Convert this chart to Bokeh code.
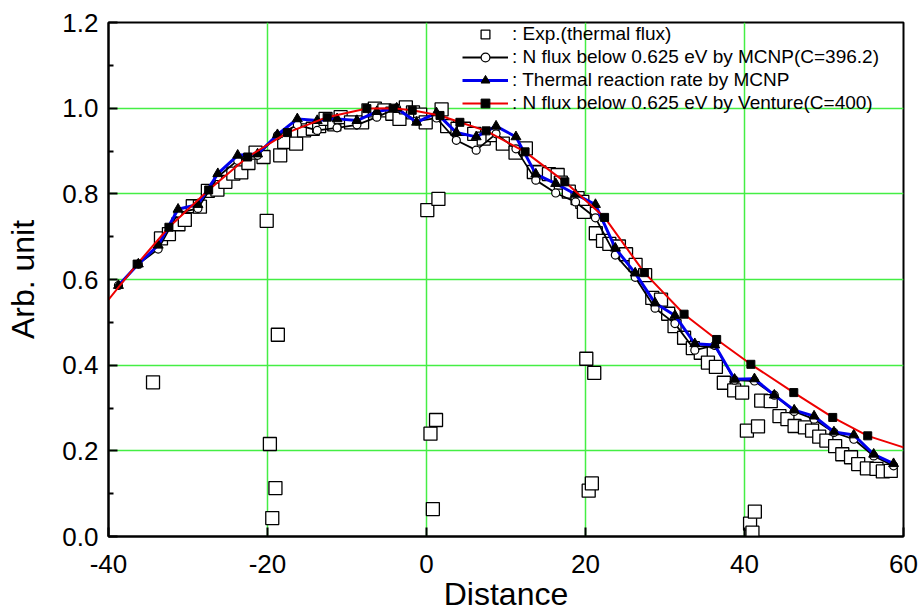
from bokeh.plotting import figure
from bokeh.models import Range1d, FixedTicker, PrintfTickFormatter, Legend, LegendItem
from bokeh.embed import file_html
from bokeh.resources import INLINE

# ---------------- data ----------------
exp_x = [-34.4, -33.4, -32.4, -31.2, -30.4, -29.4, -28.5, -27.5, -26.3, -25.3, -24.3, -23.3, -22.4,
         -21.5, -20.5, -20.1, -19.7, -19.4, -19.0, -18.7, -18.4, -17.9, -16.4, -15.4, -14.3,
         -13.5, -12.7, -11.6, -10.8, -9.5, -8.1, -7.3, -6.5, -5.3, -4.3, -3.4, -2.6, -1.7,
         -0.8, -0.1, 0.1, 0.5, 0.8, 1.2, 1.5, 1.9, 2.6, 3.9, 4.7, 6.0, 7.2, 8.3, 9.6, 11.2,
         12.5, 13.5, 14.2, 15.4, 16.5, 16.9, 17.9, 19.0, 19.6, 19.8, 20.1, 20.4, 20.8, 21.1,
         21.3, 22.2, 23.0, 24.2, 25.1, 26.3, 27.5, 28.4, 29.5, 30.4, 31.2, 32.4, 33.5, 34.5,
         35.4, 36.4, 37.4, 38.7, 39.7, 40.3, 40.7, 41.0, 41.3, 41.7, 42.1, 43.3, 44.4, 45.4,
         46.3, 47.6, 48.5, 49.4, 50.3, 51.4, 52.3, 53.4, 54.3, 55.4, 56.6, 57.4, 58.4]
exp_y = [0.360, 0.696, 0.706, 0.729, 0.739, 0.771, 0.770, 0.807, 0.810, 0.828, 0.847, 0.850, 0.872,
         0.896, 0.886, 0.737, 0.216, 0.043, 0.113, 0.471, 0.890, 0.921, 0.917, 0.948, 0.952,
         0.958, 0.975, 0.962, 0.979, 0.967, 0.967, 0.995, 0.999, 0.995, 0.987, 0.975, 1.002, 0.990,
         0.985, 0.967, 0.762, 0.240, 0.064, 0.272, 0.788, 0.997, 0.958, 0.952, 0.952, 0.940, 0.929, 0.937, 0.917, 0.896,
         0.906, 0.851, 0.850, 0.846, 0.844, 0.826, 0.805, 0.790, 0.781, 0.758, 0.415, 0.107, 0.124, 0.382,
         0.708, 0.690, 0.683, 0.677, 0.659, 0.634, 0.610, 0.557, 0.553, 0.520, 0.491, 0.464, 0.440, 0.429,
         0.406, 0.396, 0.359, 0.341, 0.336, 0.247, 0.030, 0.009, 0.058, 0.257, 0.317, 0.316, 0.281, 0.274,
         0.258, 0.255, 0.247, 0.233, 0.224, 0.211, 0.192, 0.185, 0.169, 0.159, 0.158, 0.152, 0.153]

mcnp_x = [-38.75, -36.25, -33.75, -31.25, -28.75, -26.25, -23.75, -21.25, -18.75, -16.25,
          -13.75, -11.25, -8.75, -6.25, -3.75, -1.25, 1.25, 3.75, 6.25, 8.75,
          11.25, 13.75, 16.25, 18.75, 21.25, 23.75, 26.25, 28.75, 31.25, 33.75,
          36.25, 38.75, 41.25, 43.75, 46.25, 48.75, 51.25, 53.75, 56.25, 58.75]
flux_mcnp = [0.586, 0.636, 0.671, 0.755, 0.766, 0.840, 0.878, 0.890, 0.936, 0.961,
             0.948, 0.954, 0.961, 0.979, 1.000, 0.970, 0.977, 0.925, 0.902, 0.940,
             0.905, 0.832, 0.802, 0.781, 0.744, 0.657, 0.605, 0.533, 0.497, 0.435,
             0.446, 0.365, 0.363, 0.330, 0.292, 0.274, 0.243, 0.227, 0.188, 0.165]
rate_mcnp = [0.586, 0.636, 0.680, 0.764, 0.775, 0.847, 0.890, 0.893, 0.938, 0.975,
             0.971, 0.975, 0.971, 0.992, 1.000, 0.967, 0.989, 0.943, 0.933, 0.958,
             0.933, 0.846, 0.824, 0.799, 0.775, 0.673, 0.615, 0.545, 0.516, 0.450,
             0.447, 0.367, 0.368, 0.330, 0.295, 0.281, 0.244, 0.237, 0.192, 0.170]

venture_x = [-36.4, -32.4, -27.4, -22.5, -17.5, -12.5, -7.5, -4.2, -1.8, 1.7, 4.2,
             7.5, 12.4, 17.4, 22.4, 27.4, 32.4, 36.5, 40.8, 46.2, 51.1, 55.5]
venture_y = [0.636, 0.722, 0.809, 0.886, 0.943, 0.979, 0.999, 1.000, 0.995, 0.983, 0.967,
             0.947, 0.898, 0.828, 0.745, 0.616, 0.519, 0.460, 0.402, 0.336, 0.278, 0.235]
# curve continues past the plotted range at both ends
venture_line_x = [-40.0] + venture_x + [60.0]
venture_line_y = [0.553] + venture_y + [0.208]

x_ticks = [-40, -20, 0, 20, 40, 60]
y_ticks = [0.0, 0.2, 0.4, 0.6, 0.8, 1.0, 1.2]
y_minor = [0.1, 0.3, 0.5, 0.7, 0.9, 1.1]

labels = [": Exp.(thermal flux)",
          ": N flux below 0.625 eV by MCNP(C=396.2)",
          ": Thermal reaction rate by MCNP",
          ": N flux below 0.625 eV by Venture(C=400)"]

FONT = "Liberation Sans"

# ---------------- figure ----------------
p = figure(width=921, height=614, x_range=Range1d(-40, 60), y_range=Range1d(0, 1.2),
           output_backend="svg", toolbar_location=None,
           min_border_left=108, min_border_right=18, min_border_top=22, min_border_bottom=76)
p.outline_line_color = "black"
p.outline_line_width = 2
p.background_fill_color = "white"

# grid
p.xgrid.ticker = FixedTicker(ticks=x_ticks)
p.ygrid.ticker = FixedTicker(ticks=y_ticks)
for g in (p.xgrid, p.ygrid):
    g.grid_line_color = "#44ee44"
    g.grid_line_width = 1.5

# axes
p.xaxis.ticker = FixedTicker(ticks=x_ticks, minor_ticks=[])
p.yaxis.ticker = FixedTicker(ticks=y_ticks, minor_ticks=y_minor)
p.xaxis.formatter = PrintfTickFormatter(format="%d")
p.yaxis.formatter = PrintfTickFormatter(format="%.1f")
p.xaxis.axis_label = "Distance"
p.yaxis.axis_label = "Arb. unit"
for ax in (p.xaxis, p.yaxis):
    ax.axis_line_width = 2
    ax.axis_line_color = "black"
    ax.major_tick_in = 9
    ax.major_tick_out = 0
    ax.minor_tick_in = 5
    ax.minor_tick_out = 0
    ax.major_tick_line_width = 2
    ax.minor_tick_line_width = 2
    ax.major_label_text_font = FONT
    ax.major_label_text_font_size = "26px"
    ax.major_label_text_color = "black"
    ax.axis_label_text_font = FONT
    ax.axis_label_text_font_size = "32px"
    ax.axis_label_text_font_style = "normal"
    ax.axis_label_text_color = "black"
p.xaxis.major_label_standoff = 18
p.xaxis.axis_label_standoff = 0
p.yaxis.major_label_standoff = 10
p.yaxis.axis_label_standoff = 18

# experimental points (white filled open squares, drawn first)
r_exp = p.scatter(exp_x, exp_y, marker="square", size=13, fill_color="white",
                  line_color="black", line_width=1.3)

# MCNP flux: black line with open circles
r_fl = p.line(mcnp_x, flux_mcnp, line_color="black", line_width=1.8)
r_fm = p.scatter(mcnp_x, flux_mcnp, marker="circle", size=8, fill_color="white",
                 line_color="black", line_width=1.2)

# MCNP reaction rate: blue line with filled triangles
r_rl = p.line(mcnp_x, rate_mcnp, line_color="#0000ee", line_width=3)
r_rm = p.scatter(mcnp_x, rate_mcnp, marker="triangle", size=10, fill_color="black",
                 line_color="black")

# Venture: red line with filled squares
r_vl = p.line(venture_line_x, venture_line_y, line_color="#ee0000", line_width=2)
r_vm = p.scatter(venture_x, venture_y, marker="square", size=8, fill_color="black",
                 line_color="black")

legend = Legend(items=[
    LegendItem(label=labels[0], renderers=[r_exp]),
    LegendItem(label=labels[1], renderers=[r_fl, r_fm]),
    LegendItem(label=labels[2], renderers=[r_rl, r_rm]),
    LegendItem(label=labels[3], renderers=[r_vl, r_vm]),
], location=(353, 421))
legend.background_fill_alpha = 0
legend.border_line_alpha = 0
legend.padding = 1
legend.spacing = 1
legend.margin = 0
legend.glyph_width = 46
legend.glyph_height = 22
legend.label_height = 22
legend.label_standoff = 4
legend.label_text_font = FONT
legend.label_text_font_size = "19px"
legend.label_text_color = "black"
p.add_layout(legend, "center")

open("out.html", "w").write(file_html(p, INLINE))
